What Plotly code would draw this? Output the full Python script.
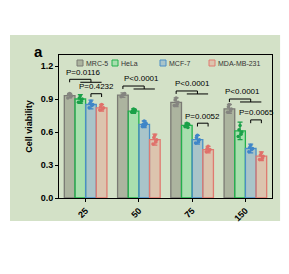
import plotly.graph_objects as go

# ---------------- data ----------------
concentrations = ["25", "50", "75", "150"]
series_names = ["MRC-5", "HeLa", "MCF-7", "MDA-MB-231"]

mrc5_mean = [0.93, 0.935, 0.87, 0.81]
hela_mean = [0.90, 0.79, 0.66, 0.61]
mcf7_mean = [0.85, 0.67, 0.53, 0.45]
mda_mean = [0.82, 0.53, 0.44, 0.38]

mrc5_sd = [0.02, 0.02, 0.04, 0.04]
hela_sd = [0.04, 0.02, 0.02, 0.08]
mcf7_sd = [0.04, 0.03, 0.04, 0.04]
mda_sd = [0.03, 0.05, 0.03, 0.04]

mrc5_reps = [[0.91, 0.93, 0.95, 0.94, 0.92], [0.92, 0.95, 0.94, 0.93, 0.94],
             [0.84, 0.87, 0.91, 0.89, 0.85], [0.78, 0.81, 0.85, 0.83, 0.79]]
hela_reps = [[0.87, 0.90, 0.93, 0.91, 0.88], [0.78, 0.80, 0.81, 0.79, 0.78],
             [0.65, 0.67, 0.68, 0.66, 0.64], [0.56, 0.60, 0.66, 0.62, 0.58]]
mcf7_reps = [[0.82, 0.85, 0.88, 0.86, 0.84], [0.65, 0.68, 0.70, 0.67, 0.66],
             [0.50, 0.53, 0.57, 0.55, 0.51], [0.42, 0.45, 0.48, 0.46, 0.44]]
mda_reps = [[0.80, 0.82, 0.85, 0.83, 0.81], [0.49, 0.53, 0.57, 0.55, 0.51],
            [0.42, 0.44, 0.47, 0.45, 0.43], [0.35, 0.38, 0.41, 0.39, 0.36]]

p_control = ["P=0.0116", "P<0.0001", "P<0.0001", "P<0.0001"]
p_pair = ["P=0.4232", None, "P=0.0052", "P=0.0065"]

y_ticks = [0.0, 0.3, 0.6, 0.9, 1.2]

# ---------------- style ----------------
line_colors = ["#7a7a74", "#22b14c", "#4a8ec6", "#e07a70"]
fill_colors = ["rgba(120,120,105,0.42)", "rgba(90,220,130,0.35)",
               "rgba(100,150,205,0.38)", "rgba(235,150,135,0.38)"]
point_colors = ["#858580", "#1aa048", "#3f86c8", "#e0706a"]
bg_green = "rgb(211,225,199)"
font_family = "Liberation Sans, Arial, sans-serif"

bar_offsets = [-0.3, -0.1, 0.1, 0.3]
jitter = [-0.035, 0.035, 0.0, -0.02, 0.02]

means = [mrc5_mean, hela_mean, mcf7_mean, mda_mean]
sds = [mrc5_sd, hela_sd, mcf7_sd, mda_sd]
reps = [mrc5_reps, hela_reps, mcf7_reps, mda_reps]
xidx = list(range(len(concentrations)))

fig = go.Figure()
for k in range(4):
    fig.add_trace(go.Bar(
        x=xidx, y=means[k], name=series_names[k],
        marker=dict(color=fill_colors[k], line=dict(color=line_colors[k], width=1.3)),
        error_y=dict(type="data", array=sds[k], color=point_colors[k], thickness=1.3, width=2.5),
        showlegend=False,
    ))
for k in range(4):
    px, py = [], []
    for i in xidx:
        for j, v in enumerate(reps[k][i]):
            px.append(i + bar_offsets[k] + jitter[j % len(jitter)])
            py.append(v)
    fig.add_trace(go.Scatter(x=px, y=py, mode="markers",
                             marker=dict(color=point_colors[k], size=3.5),
                             showlegend=False, hoverinfo="skip"))

shapes = []
annotations = []

# background panel (image area)
shapes.append(dict(type="rect", xref="paper", yref="paper", x0=-0.23, x1=1.038,
                   y0=-0.161, y1=1.14, fillcolor=bg_green, line=dict(width=0), layer="below"))

def seg(x0, y0, x1, y1):
    shapes.append(dict(type="line", xref="x", yref="y", x0=x0, y0=y0, x1=x1, y1=y1,
                       line=dict(color="black", width=1)))

ctrl_levels = [1.079, 1.018, 0.973, 0.90]
pair_levels = [0.948, None, 0.68, 0.71]
ctrl_text_dx = [-0.05, 0.05, 0.0, -0.06]
tick_len = 0.027

for i in xidx:
    y1 = ctrl_levels[i]
    y2 = y1 - tick_len
    xa = i + bar_offsets[0]
    xm = i + bar_offsets[2]
    seg(xa, y1, xm, y1)
    seg(xa, y1, xa, y1 - tick_len)
    seg(xm, y1, xm, y2)
    seg(i + bar_offsets[1], y2, i + bar_offsets[3], y2)
    annotations.append(dict(x=i + ctrl_text_dx[i], y=y1 + 0.005, xref="x", yref="y",
                            text=p_control[i], showarrow=False, xanchor="center",
                            yanchor="bottom",
                            font=dict(size=8, color="black", family=font_family)))
    if p_pair[i] is not None:
        yp = pair_levels[i]
        xb, xc = i + bar_offsets[2], i + bar_offsets[3]
        seg(xb, yp, xc, yp)
        seg(xb, yp, xb, yp - 0.03)
        seg(xc, yp, xc, yp - 0.03)
        annotations.append(dict(x=(xb + xc) / 2, y=yp + 0.005, xref="x", yref="y",
                                text=p_pair[i], showarrow=False, xanchor="center",
                                yanchor="bottom",
                                font=dict(size=8, color="black", family=font_family)))

# custom legend (pixel positions converted to paper coords)
plot_left, plot_w, plot_bottom, plot_h = 59, 213, 198, 143
leg_sq_px = [77, 112, 160, 209]
leg_y_px = 63
for k in range(4):
    x0 = (leg_sq_px[k] - plot_left) / plot_w
    x1 = (leg_sq_px[k] + 6 - plot_left) / plot_w
    yc = (plot_bottom - leg_y_px) / plot_h
    shapes.append(dict(type="rect", xref="paper", yref="paper", x0=x0, x1=x1,
                       y0=yc - 3 / plot_h, y1=yc + 3 / plot_h,
                       fillcolor=fill_colors[k], line=dict(color=line_colors[k], width=1)))
    annotations.append(dict(x=(leg_sq_px[k] + 8 - plot_left) / plot_w, y=yc, xref="paper",
                            yref="paper", text=series_names[k], showarrow=False,
                            xanchor="left", yanchor="middle", borderpad=0,
                            font=dict(size=7, color="#333333", family=font_family)))

annotations.append(dict(x=(38 - plot_left) / plot_w, y=(plot_bottom - 51) / plot_h,
                        xref="paper", yref="paper", text="<b>a</b>", showarrow=False,
                        xanchor="center", yanchor="middle", borderpad=0,
                        font=dict(size=15, color="black", family=font_family)))

fig.update_layout(
    width=289, height=274,
    margin=dict(l=59, r=17, t=55, b=76),
    paper_bgcolor="white", plot_bgcolor="rgba(0,0,0,0)",
    barmode="group", bargap=0.2, bargroupgap=0,
    shapes=shapes, annotations=annotations,
    font=dict(family=font_family, color="black"),
    xaxis=dict(tickmode="array", tickvals=xidx,
               ticktext=["<b>%s</b>" % c for c in concentrations],
               range=[-0.5, 3.5], tickangle=-45, showline=True, linecolor="black",
               linewidth=1, mirror=True, ticks="outside", ticklen=3, tickcolor="black",
               showgrid=False, zeroline=False, tickfont=dict(size=9)),
    yaxis=dict(range=[0, 1.3], tickmode="array", tickvals=y_ticks,
               ticktext=["<b>%.1f</b>" % v for v in y_ticks],
               showline=True, linecolor="black", linewidth=1, mirror=True,
               ticks="outside", ticklen=3, tickcolor="black", showgrid=False,
               zeroline=False, tickfont=dict(size=9),
               title=dict(text="<b>Cell viability</b>", font=dict(size=9), standoff=6)),
)

fig.write_html("out.html")
